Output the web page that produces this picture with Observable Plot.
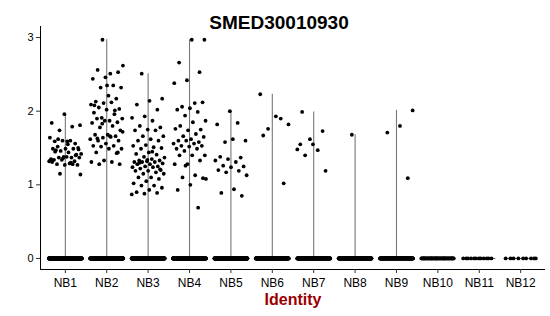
<!DOCTYPE html>
<html><head><meta charset="utf-8">
<script src="https://cdn.jsdelivr.net/npm/d3@7"></script>
<script src="https://cdn.jsdelivr.net/npm/@observablehq/plot@0.6"></script>
<style>body{margin:0;background:#fff;} #chart{width:550px;height:316px;}</style>
</head><body><div id="chart"></div>
<script>
const title = "SMED30010930";
const xLabel = "Identity";
const categories = ["NB1","NB2","NB3","NB4","NB5","NB6","NB7","NB8","NB9","NB10","NB11","NB12"];
const yTicks = [0, 1, 2, 3];
const zeroCounts = [380, 380, 380, 380, 380, 260, 260, 260, 220, 60, 12, 9];
const nb1 = [1.96,1.84,1.79,1.74,1.81,1.59,1.59,1.56,1.60,1.64,1.60,1.52,1.50,1.49,1.49,1.49,1.46,1.42,1.44,1.47,1.41,1.38,1.35,1.37,1.37,1.37,1.38,1.34,1.32,1.34,1.32,1.29,1.28,1.27,1.27,1.31,1.28,1.15,1.14,1.55,1.45,1.40,1.36,1.33,1.30,1.62,1.48];
const nb2 = [2.97,2.62,2.51,2.56,2.53,2.46,2.44,2.35,2.32,2.32,2.21,2.13,2.17,2.11,2.09,2.12,2.05,2.03,2.02,1.98,1.96,1.91,1.90,1.87,1.90,1.85,1.87,1.84,1.80,1.78,1.74,1.68,1.68,1.66,1.64,1.62,1.65,1.60,1.60,1.56,1.53,1.53,1.52,1.49,1.49,1.44,1.43,1.33,1.31,1.31,1.28,1.28,2.35,2.08,2.01,1.83,1.72,1.66,1.63,1.44];
const nb3 = [2.51,2.17,2.14,2.09,2.02,1.93,1.91,1.87,1.80,1.78,1.75,1.74,1.74,1.66,1.66,1.62,1.60,1.60,1.54,1.53,1.51,1.49,1.50,1.44,1.42,1.41,1.38,1.37,1.35,1.33,1.33,1.32,1.31,1.31,1.31,1.29,1.28,1.28,1.25,1.25,1.24,1.24,1.22,1.20,1.19,1.19,1.17,1.15,1.15,1.10,1.10,1.08,1.05,1.02,0.99,0.99,0.96,0.93,0.90,0.89,0.88,0.87,1.45,1.30,1.21,1.34];
const nb4 = [2.97,2.97,2.66,2.53,2.42,2.38,2.11,2.06,2.12,2.04,2.02,1.99,1.94,1.87,1.85,1.80,1.75,1.74,1.76,1.69,1.66,1.65,1.62,1.60,1.58,1.60,1.56,1.56,1.53,1.53,1.52,1.49,1.49,1.46,1.40,1.40,1.40,1.33,1.28,1.28,1.13,1.10,1.09,1.00,0.93,0.69,1.26,1.08];
const nb5 = [2.00,1.82,1.84,1.58,1.60,1.62,1.38,1.37,1.35,1.33,1.31,1.26,1.25,1.24,1.20,1.19,1.17,1.13,0.94,0.89,0.85];
const nb6 = [2.23,1.90,1.76,1.82,1.93,1.67,1.02];
const nb7 = [1.99,1.73,1.62,1.48,1.47,1.40,1.19,1.55,1.55];
const nb8 = [1.68];
const nb9 = [2.01,1.80,1.71,1.09];
const nonzero = [nb1, nb2, nb3, nb4, nb5, nb6, nb7, nb8, nb9, [], [], []];

// table of points (value + category index); jitter is a deterministic horizontal spread
const jitterWidth = 0.4;
let k = 0;
const jit = () => { k += 1; return (((k * 0.6180339887) % 1) - 0.5) * 2 * jitterWidth; };
const points = [];
categories.forEach((c, i) => {
  for (let z = 0; z < zeroCounts[i]; z++) points.push({ci: i, x: i + jit(), y: 0});
  nonzero[i].forEach(v => points.push({ci: i, x: i + jit(), y: v}));
});
const violins = categories.map((c, i) => ({ci: i, max: nonzero[i].length ? d3.max(nonzero[i]) : 0}))
  .filter(d => d.max > 0);
const baseRules = categories.map((c, i) => ({ci: i}));

const chart = Plot.plot({
  width: 550, height: 316,
  marginLeft: 40, marginRight: 5, marginTop: 26, marginBottom: 47,
  style: {fontFamily: "'Liberation Sans', Arial, sans-serif", color: "#000", background: "#fff"},
  x: {domain: [-0.6, 11.6], label: null},
  y: {domain: [-0.15, 3.15], label: null},
  marks: [
    Plot.ruleY(baseRules, {y: 0, x1: d => d.ci - jitterWidth, x2: d => d.ci + jitterWidth, stroke: "#333", strokeWidth: 0.8}),
    Plot.ruleX(violins, {x: "ci", y1: 0, y2: "max", stroke: "#777", strokeWidth: 1.1}),
    Plot.dot(points, {x: "x", y: "y", r: 1.9, fill: "#000", stroke: "none"}),
    Plot.ruleX([-0.6], {stroke: "#000", strokeWidth: 1}),
    Plot.ruleY([-0.15], {stroke: "#000", strokeWidth: 1}),
    Plot.axisX({ticks: d3.range(categories.length), tickFormat: i => categories[i], tickSize: 4, tickPadding: 5, fontSize: 12, label: null, stroke: "#333"}),
    Plot.axisY({ticks: yTicks, tickFormat: d => String(d), tickSize: 4, tickPadding: 3, fontSize: 11, label: null, stroke: "#333"}),
    Plot.text([title], {frameAnchor: "top", dy: -11, dx: -14, fontSize: 19, fontWeight: "bold", fill: "#000"}),
    Plot.text([xLabel], {frameAnchor: "bottom", dy: 35, fontSize: 16, fontWeight: "bold", fill: "#990000"})
  ]
});
document.getElementById("chart").appendChild(chart);
</script>
</body></html>
